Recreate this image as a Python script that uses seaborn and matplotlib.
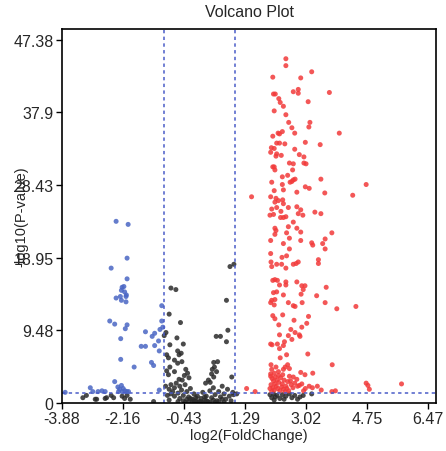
import numpy as np
import pandas as pd
import matplotlib
matplotlib.use('Agg')
import matplotlib.pyplot as plt
import seaborn as sns

# up-regulated (red): log2 fold change, -log10 p
red_fc = [2.45, 2.45, 2.08, 3.18, 2.87, 2.66, 2.80, 2.80, 2.10, 2.15, 3.68, 2.25, 2.29, 2.38, 3.08,
          2.12, 2.45, 2.53, 3.13, 3.10, 2.62, 2.35, 2.23, 2.27, 2.70, 3.96, 2.08, 2.19, 2.27, 2.42,
          3.00, 3.42, 2.04, 2.12, 2.70, 2.02, 2.19, 2.17, 2.32, 2.83, 2.96, 2.55, 2.66, 2.96, 3.02,
          2.08, 2.12, 2.14, 2.64, 2.05, 2.35, 2.50, 2.66, 2.57, 2.62, 2.71, 3.44, 2.35, 2.38, 2.12,
          3.00, 3.11, 2.76, 3.55, 4.72, 4.34, 1.48, 2.02, 2.17, 2.14, 2.24, 2.36, 2.38, 2.05, 2.19,
          2.52, 2.76, 2.87, 2.80, 2.93, 3.27, 3.44, 2.00, 2.10, 2.30, 2.38, 2.45, 2.31, 2.66, 2.52,
          2.76, 2.14, 2.17, 2.14, 2.47, 2.87, 3.75, 2.02, 2.55, 2.87, 2.38, 3.18, 3.21, 3.49, 3.56,
          2.55, 3.56, 2.02, 2.47, 2.34, 3.37, 3.37, 2.03, 2.19, 2.33, 2.66, 2.74, 2.80, 2.05, 2.45,
          2.08, 2.14, 2.21, 2.45, 2.76, 2.27, 2.45, 2.90, 2.99, 2.94, 3.59, 2.10, 2.19, 2.38, 2.88,
          3.32, 2.05, 2.14, 2.02, 2.12, 2.52, 2.66, 2.71, 2.91, 3.56, 3.89, 4.43, 2.08, 2.36, 2.14,
          3.09, 3.04, 2.68, 2.25, 2.90, 2.59, 2.71, 2.27, 2.52, 2.85, 2.83, 2.62, 2.41, 2.02, 2.06,
          2.21, 2.27, 2.38, 3.07, 2.47, 2.29, 2.03, 2.05, 2.17, 2.24, 2.38, 2.43, 2.50, 2.55, 3.76,
          2.12, 2.02, 2.87, 2.99, 3.21, 2.66, 2.76, 3.34, 3.11, 2.83, 4.72, 4.77, 4.81, 5.72, 3.75,
          1.34, 1.58,
          2.02, 2.06, 2.10, 2.15, 2.20, 2.25, 2.30, 2.35, 2.40, 2.45, 2.50, 2.55, 2.60, 2.65, 2.03,
          2.08, 2.12, 2.18, 2.22, 2.28, 2.33, 2.38, 2.43, 2.48, 2.53, 2.58, 2.70, 2.78, 2.05, 2.14,
          2.24, 2.36, 2.00, 2.90, 3.00, 3.20, 2.95, 3.45, 3.85]
red_p = [44.9, 44.0, 42.5, 43.2, 42.4, 40.6, 40.9, 40.4, 40.3, 40.3, 40.5, 39.7, 39.2, 38.7, 39.3,
         38.1, 37.6, 36.6, 36.6, 36.0, 35.9, 35.4, 35.2, 35.1, 35.2, 35.2, 34.8, 33.9, 33.9, 33.8,
         34.0, 33.7, 33.3, 33.2, 33.1, 32.7, 32.5, 32.2, 32.3, 32.4, 32.1, 31.3, 31.2, 31.3, 31.2,
         30.8, 30.8, 30.4, 30.4, 28.8, 29.5, 29.7, 29.1, 28.8, 28.9, 29.2, 29.2, 28.5, 27.8, 27.7,
         28.2, 28.0, 27.5, 27.4, 28.5, 27.1, 26.9, 26.9, 26.7, 26.2, 26.4, 26.5, 26.0, 25.3, 25.5,
         25.5, 25.6, 25.2, 24.7, 24.5, 24.9, 24.7, 24.5, 24.6, 24.2, 24.2, 24.3, 25.0, 23.6, 23.0,
         22.8, 22.8, 22.5, 22.0, 22.2, 22.3, 22.2, 21.2, 21.5, 21.2, 20.8, 20.9, 20.6, 20.8, 21.4,
         20.1, 20.1, 19.5, 19.2, 19.0, 18.7, 18.2, 18.4, 18.1, 18.1, 18.1, 18.2, 18.4, 17.8, 17.6,
         16.0, 16.1, 16.0, 15.8, 15.8, 15.4, 15.4, 15.3, 15.3, 14.8, 15.1, 14.4, 14.5, 14.1, 14.2,
         14.0, 13.4, 13.5, 13.1, 12.8, 13.1, 12.7, 12.6, 13.1, 13.1, 12.3, 12.6, 11.4, 11.5, 11.0,
         11.3, 10.4, 10.8, 10.2, 9.9, 9.6, 9.2, 8.9, 8.8, 8.7, 8.9, 8.3, 8.0, 7.7, 7.6,
         7.7, 7.1, 7.5, 6.4, 6.3, 5.9, 5.0, 4.4, 4.7, 4.1, 4.4, 4.7, 5.0, 4.5, 5.0,
         3.9, 3.8, 4.0, 3.7, 3.9, 3.4, 3.1, 2.2, 2.2, 2.3, 2.6, 2.3, 1.8, 2.5, 1.5,
         1.9, 1.5,
         3.5, 3.2, 2.9, 3.4, 3.0, 2.7, 3.3, 2.5, 3.0, 2.2, 2.8, 3.5, 2.4, 2.0, 2.4,
         2.0, 1.7, 2.2, 1.9, 1.6, 2.1, 1.8, 1.5, 1.9, 1.6, 2.9, 2.6, 2.2, 1.5, 2.5,
         3.6, 3.7, 1.9, 2.5, 1.9, 2.0, 1.6, 1.7, 1.6]

# down-regulated (blue)
blue_fc = [-2.35, -2.01, -2.04, -2.49, -2.04, -2.18, -2.13, -2.20, -2.11, -2.06, -2.23, -2.07, -2.35,
           -2.20, -2.07, -2.53, -2.39, -2.04, -2.09, -2.22, -1.52, -1.33, -1.26, -1.64, -1.52, -1.26,
           -1.15, -1.11, -1.03, -1.13, -2.22, -1.35, -1.29, -1.84, -2.39, -2.30, -2.25, -2.20, -2.15,
           -2.10, -2.05, -2.28, -2.18, -2.00, -3.08, -3.01, -2.86, -2.75, -2.66, -3.79, -1.13, -1.06,
           -1.06]
blue_p = [23.7, 23.3, 18.9, 17.6, 16.2, 15.1, 15.2, 14.7, 14.5, 14.1, 13.9, 13.9, 13.7,
          13.4, 13.2, 10.7, 10.3, 10.2, 9.7, 8.4, 9.3, 8.7, 9.1, 7.4, 7.4, 7.5,
          8.1, 9.6, 9.9, 6.8, 5.7, 5.3, 4.9, 4.7, 2.8, 2.1, 1.8, 2.3, 1.9,
          1.6, 1.5, 1.5, 1.5, 1.5, 2.0, 1.5, 1.5, 1.6, 1.5, 1.4, 1.7, 12.7,
          10.7]

# not significant (black)
black_fc = [0.98, 0.87, -0.80, -0.66, 0.77, -0.85, -0.53, 0.81, -0.94, -0.99, 0.48, 0.60, -0.63,
            0.77, -0.45, -0.83, -0.61, -0.51, -0.57, -0.92, -0.87, -0.70, -0.61, -0.49, 0.41, 0.52,
            0.43, 0.37, 0.49, 0.35, 0.41, 0.26, 0.31, 0.18, -0.83, -0.92, -0.87, -0.70, -0.38, -0.33,
            -0.42, -0.29, -0.48, -0.57, 0.92,
            -0.95, -0.85, -0.80, -0.75, -0.70, -0.65, -0.60, -0.55, -0.50, -0.45, -0.40, -0.35, -0.30,
            -0.25, -0.20, -0.15, -0.10, -0.05, 0.00, 0.05, 0.10, 0.15, 0.20, 0.25, 0.30, 0.35, 0.40,
            0.45, 0.50, 0.55, 0.60, 0.65, 0.70, 0.75, 0.80, 0.85, 0.90, 0.95,
            -0.45, -0.40, -0.35, -0.30, -0.25, -0.20, -0.15, -0.10, -0.05, 0.05, 0.10, 0.15, 0.20,
            0.30, 0.40, 0.45, 0.55, 0.65, 0.70, -0.55, -0.60, -0.70, -0.85, -0.90, -0.80, 0.97, 1.06,
            -3.29, -2.94, -2.66, -2.49, -2.42, -2.18, -2.11, -2.04, -1.95, -1.29, -3.19, -2.90, -2.62,
            2.00, 2.05, 2.10, 2.15, 2.20, 2.28, 2.35, 2.45, 2.55, 2.62, 2.70, 2.78, 2.85, 2.12, 2.40,
            3.18, 2.94]
black_p = [18.1, 17.8, 15.0, 14.8, 13.4, 11.6, 10.5, 9.5, 9.2, 8.8, 8.7, 8.7, 8.5,
           8.0, 7.7, 7.6, 6.8, 6.5, 6.3, 6.3, 5.9, 5.6, 5.2, 5.4, 5.3, 5.4,
           4.7, 4.4, 4.1, 3.8, 3.4, 3.0, 2.7, 2.6, 4.7, 4.2, 3.7, 4.1, 4.4, 3.9,
           3.6, 3.3, 3.0, 3.1, 3.4,
           2.2, 1.8, 2.4, 1.5, 2.0, 2.6, 1.3, 2.2, 1.7, 1.0, 2.4, 1.5, 0.8,
           1.9, 0.5, 1.2, 0.3, 0.9, 0.2, 0.6, 1.4, 0.4, 0.9, 0.2, 1.6, 0.7, 2.0,
           1.1, 0.3, 1.5, 0.8, 2.2, 1.2, 0.5, 1.8, 0.9, 0.3, 1.4,
           0.3, 0.1, 0.5, 0.2, 0.6, 0.1, 0.3, 0.7, 0.1, 0.2, 0.05, 0.8, 0.3,
           0.1, 0.4, 0.1, 0.2, 0.5, 0.1, 0.6, 0.2, 0.9, 0.4, 1.0, 1.2, 1.1, 1.2,
           0.7, 0.5, 0.6, 1.0, 0.7, 0.9, 0.6, 1.0, 0.5, 0.2, 1.0, 0.5, 0.7,
           1.1, 0.7, 1.2, 0.8, 1.0, 0.6, 1.1, 0.9, 1.2, 0.7, 1.0, 0.5, 0.8, 0.4, 0.5,
           1.2, 1.0]

x_ticks = [-3.88, -2.16, -0.43, 1.29, 3.02, 4.75, 6.47]
y_ticks = [0, 9.48, 18.95, 28.43, 37.9, 47.38]
y_tick_labels = ['0', '9.48', '18.95', '28.43', '37.9', '47.38']

fc_cutoff = 1.0
p_cutoff = -np.log10(0.05)

df = pd.concat([
    pd.DataFrame({'log2FC': black_fc, 'logP': black_p, 'group': 'ns'}),
    pd.DataFrame({'log2FC': blue_fc, 'logP': blue_p, 'group': 'down'}),
    pd.DataFrame({'log2FC': red_fc, 'logP': red_p, 'group': 'up'}),
], ignore_index=True)

sns.set_style('white')
plt.rcParams['font.family'] = ['Liberation Sans', 'DejaVu Sans']

fig = plt.figure(figsize=(4.46, 4.52), dpi=100)
ax = fig.add_axes([0.139, 0.106, 0.839, 0.828])

palette = {'ns': '#2b2b2b', 'down': '#4a66c4', 'up': '#f23a3a'}
sns.scatterplot(data=df, x='log2FC', y='logP', hue='group', palette=palette,
                s=13, linewidth=0, alpha=0.85, legend=False, ax=ax)

# 阈值虚线
line_kw = dict(color='#4a5cc8', linestyle=(0, (2.2, 2.2)), linewidth=1.1, zorder=1)
ax.axvline(-fc_cutoff, **line_kw)
ax.axvline(fc_cutoff, **line_kw)
ax.axhline(p_cutoff, **line_kw)

ax.set_xlim(-3.88, 6.70)
ax.set_ylim(0, 48.8)
ax.set_xticks(x_ticks)
ax.set_xticklabels([f'{t:.2f}' for t in x_ticks])
ax.set_yticks(y_ticks)
ax.set_yticklabels(y_tick_labels)
ax.tick_params(axis='both', direction='out', length=4, width=1, color='black',
               labelsize=11.5, pad=2, left=True, bottom=True)

for sp in ax.spines.values():
    sp.set_color('black')
    sp.set_linewidth(1.2)

ax.set_title('Volcano Plot', fontsize=11.5, pad=9)
ax.set_xlabel('log2(FoldChange)', fontsize=10.5, labelpad=1)
ax.set_ylabel('-log10(P-value)', fontsize=10.5)
ax.yaxis.set_label_coords(-0.09, 0.5)

fig.savefig('out.png', dpi=100)
